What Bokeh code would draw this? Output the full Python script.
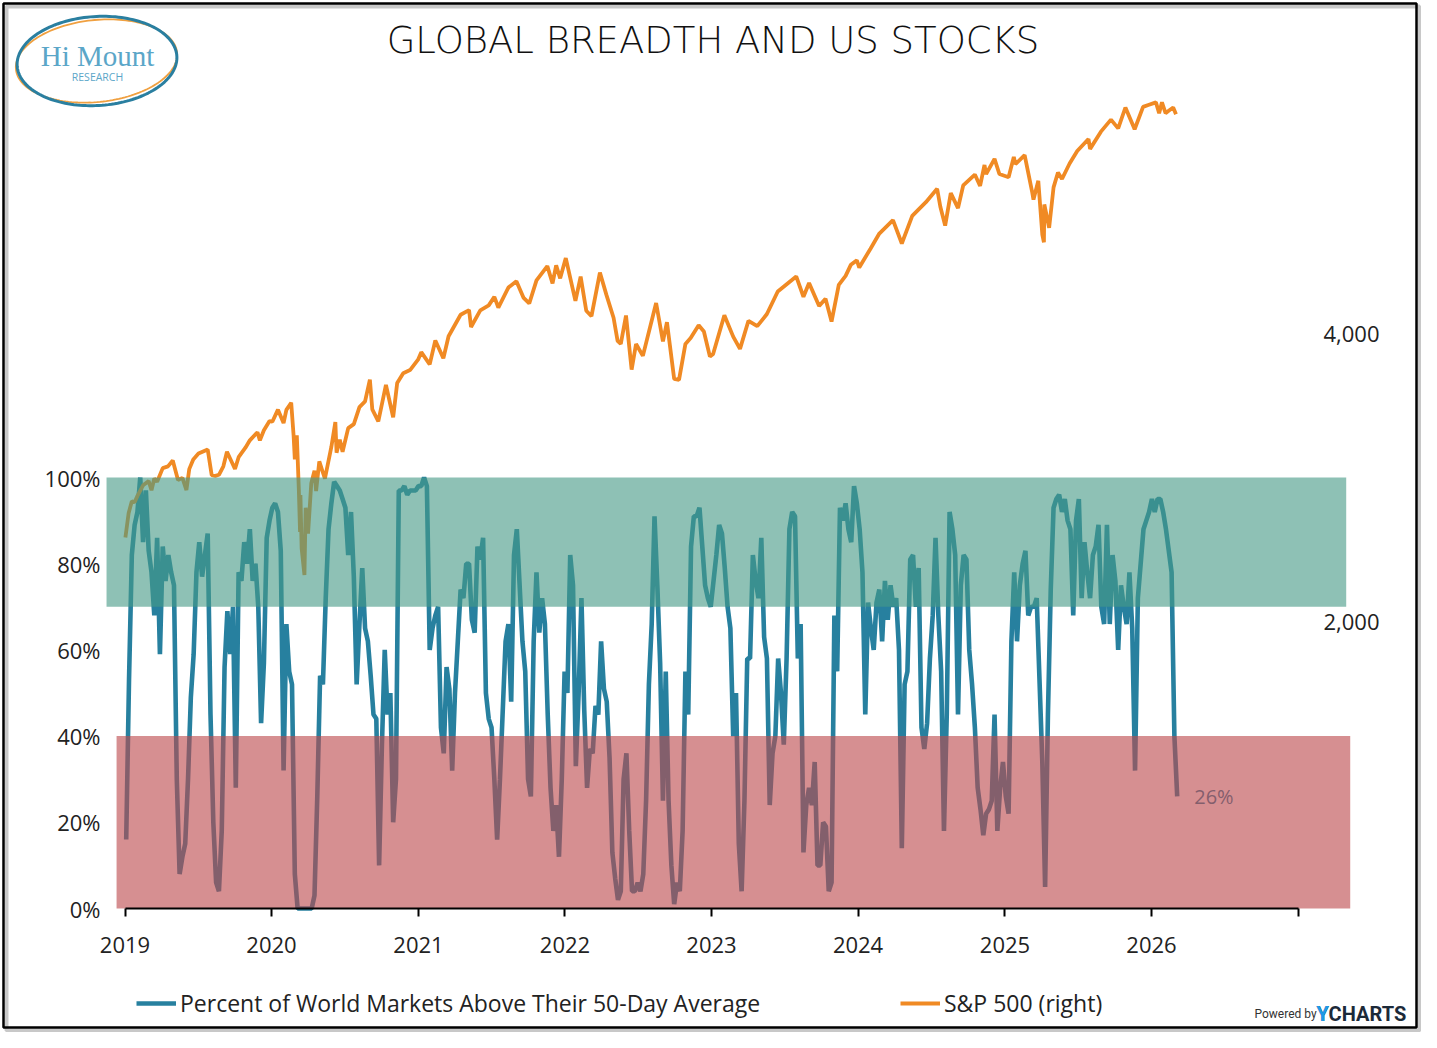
import numpy as np
import pandas as pd
from bokeh.plotting import figure
from bokeh.models import (Range1d, LogAxis, LogScale, FixedTicker, NumeralTickFormatter,
                          PrintfTickFormatter, DatetimeTickFormatter, Legend, LegendItem,
                          Label, BoxAnnotation, PolyAnnotation, ColumnDataSource)
from bokeh.core.properties import value
from bokeh.embed import file_html
from bokeh.resources import INLINE

# ---------------- data ----------------
title_text = "GLOBAL BREADTH AND US STOCKS"
breadth_label = "Percent of World Markets Above Their 50-Day Average"
spx_label = "S&P 500 (right)"

# weekly readings (Fridays) starting 2019-01-04
breadth_start = "2019-01-04"
breadth_values = [
    16, 53, 82, 89, 92, 100, 85, 97, 83, 78,
    68, 86, 59, 84, 76, 82, 78, 75, 30, 8,
    12, 15, 30, 49, 59, 78, 85, 77, 82, 87,
    45, 20, 6, 4, 18, 56, 69, 59, 70, 28,
    78, 76, 85, 80, 88, 76, 80, 70, 43, 57,
    86, 90, 93, 94, 92, 83, 32, 66, 55, 52,
    8, 0, 0, 0, 0, 0, 0, 3, 26, 54,
    52, 72, 88, 94, 99, 98, 97, 95, 93, 82,
    92, 77, 52, 66, 79, 65, 62, 54, 45, 44,
    10, 38, 60, 45, 50, 20, 30, 97, 97, 98,
    96, 97, 97, 97, 98, 98, 100, 98, 60, 65,
    68, 70, 42, 36, 56, 51, 32, 50, 62, 74,
    72, 80, 80, 67, 64, 84, 81, 86, 50, 44,
    42, 30, 16, 30, 46, 62, 66, 48, 82, 88,
    75, 62, 55, 30, 26, 62, 78, 64, 72, 66,
    45, 28, 18, 24, 12, 30, 55, 50, 82, 75,
    33, 50, 72, 46, 28, 37, 36, 47, 45, 62,
    51, 48, 35, 13, 7, 2, 4, 30, 36, 18,
    4, 4, 6, 4, 8, 25, 52, 66, 91, 75,
    57, 25, 55, 25, 10, 1, 6, 4, 18, 55,
    45, 84, 91, 91, 93, 84, 75, 72, 70, 76,
    82, 89, 87, 79, 70, 65, 40, 50, 15, 4,
    25, 58, 58, 82, 76, 72, 86, 63, 58, 24,
    36, 40, 58, 50, 38, 58, 88, 92, 91, 58,
    66, 13, 24, 28, 24, 34, 10, 10, 20, 19,
    4, 6, 68, 55, 93, 90, 94, 88, 85, 98,
    94, 88, 78, 45, 71, 65, 60, 71, 74, 62,
    76, 67, 75, 70, 72, 60, 14, 52, 55, 81,
    82, 70, 79, 42, 37, 43, 58, 68, 86, 68,
    55, 18, 45, 92, 88, 82, 45, 75, 82, 81,
    60, 52, 42, 28, 23, 17, 22, 23, 25, 45,
    18, 28, 34, 26, 22, 62, 78, 62, 75, 80,
    83, 68, 70, 70, 72, 53, 34, 5, 45, 74,
    93, 95, 96, 92, 95, 90, 88, 68, 90, 95,
    72, 85, 78, 72, 82, 84, 89, 70, 66, 89,
    66, 82, 76, 60, 75, 70, 66, 78, 65, 32,
    72, 80, 88, 90, 92, 95, 92, 95, 95, 92,
    88, 83, 78, 40, 26,
]

spx_dates = [
    "2019-01-02", "2019-01-10", "2019-01-18", "2019-01-25", "2019-02-01", "2019-02-15",
    "2019-03-01", "2019-03-08", "2019-03-15", "2019-03-22", "2019-04-05", "2019-04-18",
    "2019-04-30", "2019-05-13", "2019-05-24", "2019-06-03", "2019-06-10", "2019-06-20",
    "2019-07-03", "2019-07-26", "2019-08-05", "2019-08-14", "2019-08-23", "2019-09-03",
    "2019-09-12", "2019-10-02", "2019-10-11", "2019-10-28", "2019-11-08", "2019-11-27",
    "2019-12-03", "2019-12-13", "2019-12-27", "2020-01-03", "2020-01-17", "2020-01-31",
    "2020-02-07", "2020-02-19", "2020-02-25", "2020-02-28", "2020-03-04", "2020-03-09",
    "2020-03-12", "2020-03-13", "2020-03-16", "2020-03-23", "2020-03-26", "2020-04-01",
    "2020-04-09", "2020-04-17", "2020-04-21", "2020-04-29", "2020-05-13", "2020-05-29",
    "2020-06-08", "2020-06-11", "2020-06-19", "2020-06-26", "2020-07-10", "2020-07-24",
    "2020-08-07", "2020-08-21", "2020-09-02", "2020-09-08", "2020-09-23", "2020-10-12",
    "2020-10-30", "2020-11-09", "2020-11-24", "2020-12-11", "2020-12-31", "2021-01-08",
    "2021-01-29", "2021-02-12", "2021-03-04", "2021-03-17", "2021-04-16", "2021-05-07",
    "2021-05-12", "2021-06-04", "2021-06-25", "2021-07-09", "2021-07-19", "2021-08-13",
    "2021-09-02", "2021-09-20", "2021-10-04", "2021-10-22", "2021-11-18", "2021-12-01",
    "2021-12-10", "2021-12-20", "2022-01-03", "2022-01-27", "2022-02-09", "2022-02-23",
    "2022-03-08", "2022-03-29", "2022-04-14", "2022-05-02", "2022-05-12", "2022-05-20",
    "2022-06-02", "2022-06-16", "2022-06-27", "2022-07-14", "2022-08-16", "2022-09-02",
    "2022-09-12", "2022-09-30", "2022-10-12", "2022-10-28", "2022-11-10", "2022-11-30",
    "2022-12-13", "2022-12-28", "2023-01-05", "2023-02-02", "2023-02-24", "2023-03-13",
    "2023-04-03", "2023-04-25", "2023-05-19", "2023-06-15", "2023-07-31", "2023-08-18",
    "2023-09-01", "2023-09-26", "2023-10-12", "2023-10-27", "2023-11-14", "2023-12-01",
    "2023-12-14", "2023-12-29", "2024-01-04", "2024-02-01", "2024-02-23", "2024-03-28",
    "2024-04-19", "2024-05-15", "2024-06-18", "2024-07-16", "2024-07-24", "2024-08-05",
    "2024-08-19", "2024-09-06", "2024-09-19", "2024-10-18", "2024-10-31", "2024-11-11",
    "2024-11-15", "2024-12-06", "2024-12-18", "2025-01-10", "2025-01-23", "2025-01-27",
    "2025-02-19", "2025-03-10", "2025-03-13", "2025-03-25", "2025-04-04", "2025-04-08",
    "2025-04-09", "2025-04-21", "2025-05-02", "2025-05-13", "2025-05-23", "2025-06-11",
    "2025-06-30", "2025-07-28", "2025-08-01", "2025-08-28", "2025-09-22", "2025-10-10",
    "2025-10-28", "2025-11-20", "2025-12-11", "2025-12-24", "2026-01-12", "2026-01-20",
    "2026-01-27", "2026-02-05", "2026-02-12", "2026-02-24", "2026-03-03",
]
spx_values = [
    2448, 2596, 2671, 2665, 2706, 2776,
    2804, 2743, 2822, 2800, 2893, 2905,
    2946, 2812, 2826, 2744, 2886, 2954,
    2996, 3026, 2844, 2840, 2847, 2906,
    3009, 2887, 2970, 3039, 3093, 3154,
    3093, 3169, 3240, 3235, 3330, 3225,
    3328, 3386, 3128, 2954, 3130, 2747,
    2481, 2711, 2386, 2237, 2630, 2471,
    2790, 2875, 2737, 2940, 2820, 3044,
    3232, 3002, 3098, 3009, 3185, 3216,
    3351, 3397, 3580, 3332, 3237, 3534,
    3270, 3550, 3635, 3663, 3756, 3824,
    3714, 3934, 3768, 3974, 4185, 4232,
    4063, 4229, 4280, 4369, 4258, 4468,
    4537, 4358, 4300, 4545, 4704, 4513,
    4712, 4568, 4796, 4326, 4587, 4225,
    4170, 4632, 4392, 4155, 3930, 3901,
    4177, 3667, 3900, 3790, 4305, 3924,
    4110, 3586, 3577, 3901, 3956, 4080,
    4019, 3783, 3808, 4179, 3970, 3855,
    4124, 4071, 4192, 4426, 4589, 4370,
    4516, 4273, 4349, 4117, 4496, 4595,
    4719, 4770, 4688, 4906, 5088, 5254,
    4967, 5308, 5487, 5667, 5427, 5186,
    5608, 5408, 5713, 5864, 5705, 6001,
    5870, 6090, 5872, 5827, 6119, 6012,
    6144, 5615, 5521, 5776, 5074, 4982,
    5457, 5158, 5686, 5892, 5802, 6022,
    6205, 6389, 6238, 6502, 6693, 6553,
    6891, 6539, 6901, 6932, 6977, 6797,
    6979, 6798, 6833, 6890, 6780,
]

year_ticks = list(range(2019, 2027))
end_tick_year = 2027
pct_ticks = [0, 20, 40, 60, 80, 100]
spx_ticks = [2000, 4000]
green_zone = (70, 100)
red_zone = (0, 40)
green_band_x = ("2018-11-16", "2027-05-01")
red_band_x = ("2018-12-11", "2027-05-11")

# ---------------- layout constants (frame = whole canvas) ----------------
W, H = 1421, 1032
base = pd.Timestamp("2019-01-01")
base_px = 124.5                               # canvas x of 2019-01-01
ppd = 0.40145                                 # px per day
x_start = base - pd.Timedelta(days=base_px / ppd)
x_end = base + pd.Timedelta(days=(W - base_px) / ppd)
zero_px, px_per_pct = 908.0, 4.31
pct_bot = -(H - zero_px) / px_per_pct
pct_top = zero_px / px_per_pct
spx_px, spx_2000_px = 288.0, 621.0
spx_bot = 2000 * 2 ** ((spx_2000_px - H) / spx_px)
spx_top = 2000 * 2 ** (spx_2000_px / spx_px)

def sx(cx):
    return cx

def sy(cy):
    return H - cy

def x_at(cx):
    return (base + pd.Timedelta(days=(cx - base_px) / ppd)).value / 1e6

FONT = "Open Sans"
BLUE = "#27809f"
ORANGE = "#f08a24"

p = figure(width=W, height=H, x_axis_type="datetime", title=None,
           x_range=Range1d(x_start, x_end), y_range=Range1d(pct_bot, pct_top),
           output_backend="svg", toolbar_location=None,
           min_border=0, min_border_left=0, min_border_right=0,
           min_border_top=0, min_border_bottom=0)
p.extra_y_ranges = {"spx": Range1d(spx_bot, spx_top)}
p.extra_y_scales = {"spx": LogScale()}
p.xgrid.visible = False
p.ygrid.visible = False
p.outline_line_color = None
p.background_fill_color = "white"
p.border_fill_color = "white"

# x axis
xa = p.xaxis[0]
xa.fixed_location = 0
xa.ticker = FixedTicker(ticks=[pd.Timestamp(f"{y}-01-01").value / 1e6 for y in year_ticks],
                        minor_ticks=[pd.Timestamp(f"{end_tick_year}-01-01").value / 1e6])
fmt = "%Y"
xa.formatter = DatetimeTickFormatter(milliseconds=fmt, seconds=fmt, minsec=fmt, minutes=fmt,
                                     hourmin=fmt, hours=fmt, days=fmt, months=fmt, years=fmt)
xa.bounds = (pd.Timestamp(f"{year_ticks[0]}-01-01"), pd.Timestamp(f"{end_tick_year}-01-01"))
xa.axis_line_color = "black"
xa.axis_line_width = 2
xa.major_tick_line_color = "black"
xa.major_tick_line_width = 2
xa.major_tick_out = 8
xa.major_tick_in = 0
xa.minor_tick_line_color = "black"
xa.minor_tick_line_width = 2
xa.minor_tick_out = 8
xa.minor_tick_in = 0
xa.major_label_standoff = 20
xa.major_label_text_font = FONT
xa.major_label_text_font_size = "22px"
xa.major_label_text_color = "#222222"

# left axis
ya = p.yaxis[0]
ya.fixed_location = x_at(103)
ya.ticker = FixedTicker(ticks=pct_ticks)
ya.formatter = PrintfTickFormatter(format="%d%%")
ya.axis_line_color = None
ya.major_tick_line_color = None
ya.minor_tick_line_color = None
ya.major_tick_out = 0
ya.major_tick_in = 0
ya.minor_tick_out = 0
ya.major_label_standoff = 3
ya.major_label_text_font = FONT
ya.major_label_text_font_size = "22px"
ya.major_label_text_color = "#222222"

# right axis (log)
ra = LogAxis(y_range_name="spx", ticker=FixedTicker(ticks=spx_ticks),
             formatter=NumeralTickFormatter(format="0,0"), fixed_location=x_at(1320))
ra.axis_line_color = None
ra.major_tick_line_color = None
ra.minor_tick_line_color = None
ra.major_tick_out = 0
ra.major_tick_in = 0
ra.minor_tick_out = 0
ra.major_label_standoff = 3
ra.major_label_text_font = FONT
ra.major_label_text_font_size = "22px"
ra.major_label_text_color = "#222222"
p.add_layout(ra, "right")

# series
bdates = pd.date_range(breadth_start, periods=len(breadth_values), freq="7D")
src_b = ColumnDataSource(dict(x=bdates, y=breadth_values))
rb = p.line("x", "y", source=src_b, line_color=BLUE, line_width=4.6)
src_s = ColumnDataSource(dict(x=pd.to_datetime(spx_dates), y=spx_values))
rs = p.line("x", "y", source=src_s, y_range_name="spx", line_color=ORANGE, line_width=3.8)

p.text(x=[bdates[-1]], y=[breadth_values[-1]], text=[f"{breadth_values[-1]}%"],
       x_offset=17, text_baseline="middle", text_align="left",
       text_font=value(FONT), text_font_size="20px", text_color=BLUE)

# bands (drawn over the lines)
p.quad(left=[pd.Timestamp(green_band_x[0])], right=[pd.Timestamp(green_band_x[1])],
       bottom=[green_zone[0]], top=[green_zone[1]],
       fill_color="#479986", fill_alpha=0.61, line_color=None)
p.quad(left=[pd.Timestamp(red_band_x[0])], right=[pd.Timestamp(red_band_x[1])],
       bottom=[red_zone[0]], top=[red_zone[1]],
       fill_color="#bd4a4e", fill_alpha=0.62, line_color=None)

# legends
leg_common = dict(background_fill_alpha=0, border_line_color=None, padding=0, margin=0,
                  glyph_width=40, glyph_height=30, label_height=30, label_standoff=4,
                  label_text_font_size="23px", label_text_font=FONT,
                  label_text_color="#222222")
leg1 = Legend(items=[LegendItem(label=value(breadth_label), renderers=[rb])],
              location=(sx(136), sy(1019)), **leg_common)
leg2 = Legend(items=[LegendItem(label=value(spx_label), renderers=[rs])],
              location=(sx(900), sy(1019)), **leg_common)
p.add_layout(leg1)
p.add_layout(leg2)

# title (thin face)
p.add_layout(Label(x=sx(712.5), y=sy(40), x_units="screen", y_units="screen",
                   text=title_text, text_align="center", text_baseline="middle",
                   text_font="DejaVu Sans ExtraLight, DejaVu Sans Light, Lato",
                   text_font_size="37px", text_color="#111111"))

# logo
t = np.linspace(0, 2 * np.pi, 160)

def ellipse(cx, cy, a, b, deg):
    th = np.radians(deg)
    ex = cx + a * np.cos(t) * np.cos(th) - b * np.sin(t) * np.sin(th)
    ey = cy - (a * np.cos(t) * np.sin(th) + b * np.sin(t) * np.cos(th))
    return [sx(v) for v in ex], [sy(v) for v in ey]

bx, by = ellipse(96.5, 60.5, 80, 44.5, 3.5)
ox, oy = ellipse(96.0, 60.5, 81, 41, 6.0)
p.add_layout(PolyAnnotation(xs=ox, ys=oy, xs_units="screen", ys_units="screen",
                            fill_alpha=0, line_alpha=1, line_color="#f0a040", line_width=1.8))
p.add_layout(PolyAnnotation(xs=bx, ys=by, xs_units="screen", ys_units="screen",
                            fill_alpha=0, line_alpha=1, line_color="#2a7fa0", line_width=3))
p.add_layout(Label(x=sx(97), y=sy(55), x_units="screen", y_units="screen", text="Hi Mount",
                   text_align="center", text_baseline="middle", text_font="Liberation Serif",
                   text_font_size="29px", text_color="#5ba6c8"))
p.add_layout(Label(x=sx(97), y=sy(76), x_units="screen", y_units="screen", text="RESEARCH",
                   text_align="center", text_baseline="middle", text_font=FONT,
                   text_font_size="10.5px", text_color="#5ba6c8"))

# powered by
p.add_layout(Label(x=sx(1254), y=sy(1013), x_units="screen", y_units="screen", text="Powered by",
                   text_align="left", text_baseline="middle", text_font="Roboto",
                   text_font_size="12px", text_color="#333333"))
p.add_layout(Label(x=sx(1316), y=sy(1013), x_units="screen", y_units="screen", text="YCHARTS",
                   text_align="left", text_baseline="middle", text_font="Roboto",
                   text_font_style="bold", text_font_size="20px", text_color="#1c2a39"))
p.add_layout(Label(x=sx(1316), y=sy(1013), x_units="screen", y_units="screen", text="Y",
                   text_align="left", text_baseline="middle", text_font="Roboto",
                   text_font_style="bold", text_font_size="20px", text_color="#1e9be9"))

# border with shadow
p.add_layout(BoxAnnotation(left=sx(6), right=sx(1419), top=sy(6), bottom=sy(1030),
                           left_units="screen", right_units="screen",
                           top_units="screen", bottom_units="screen",
                           fill_alpha=0, line_alpha=1, line_color="#c8c8c8", line_width=4))
p.add_layout(BoxAnnotation(left=sx(3), right=sx(1416), top=sy(3), bottom=sy(1027),
                           left_units="screen", right_units="screen",
                           top_units="screen", bottom_units="screen",
                           fill_alpha=0, line_alpha=1, line_color="black", line_width=2.5))

open("out.html", "w").write(file_html(p, INLINE))
